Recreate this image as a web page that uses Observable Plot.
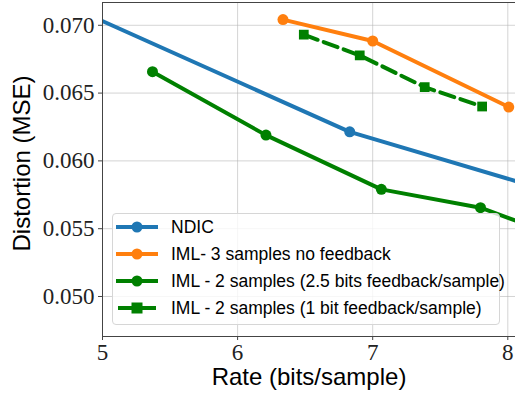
<!DOCTYPE html>
<html>
<head>
<meta charset="utf-8">
<script src="https://cdn.jsdelivr.net/npm/d3@7"></script>
<script src="https://cdn.jsdelivr.net/npm/@observablehq/plot@0.6"></script>
<style>
  html, body { margin: 0; padding: 0; background: #fff; }
  #wrap { position: relative; width: 515px; height: 398px; overflow: hidden; }
  #legend {
    position: absolute; left: 112px; top: 213px; width: 388px; height: 112px;
    border: 1px solid #d6d6d6; border-radius: 4px; background: rgba(255,255,255,0.8);
    font-family: "Liberation Sans", sans-serif; font-size: 17.5px; color: #000;
    box-sizing: border-box;
  }
  .row { position: absolute; left: 0; height: 26px; display: flex; align-items: center; }
  .row svg { margin-left: 3px; }
  .row span { margin-left: 13px; white-space: nowrap; }
</style>
</head>
<body>
<div id="wrap"><div id="chart"></div><div id="legend"></div></div>
<script>
// Series names
const seriesNames = [
  "NDIC",
  "IML- 3 samples no feedback",
  "IML - 2 samples (2.5 bits feedback/sample)",
  "IML - 2 samples (1 bit feedback/sample)"
];
const seriesColors = ["#1f77b4", "#ff7f0e", "#008000", "#008000"];

// NDIC (curve continues beyond the visible axes; only one marker in view)
const ndicRate = [4.8, 6.83, 8.3];
const ndicDist = [0.0712, 0.06214, 0.0578];

// IML 3 samples, no feedback
const iml3Rate = [6.336, 7.0, 8.007];
const iml3Dist = [0.07042, 0.06884, 0.06397];

// IML 2 samples, 2.5 bits feedback
const iml2aRate = [5.37, 6.21, 7.064, 7.798, 8.3];
const iml2aDist = [0.06658, 0.0619, 0.0579, 0.05655, 0.0547];

// IML 2 samples, 1 bit feedback
const iml2bRate = [6.49, 6.904, 7.385, 7.81];
const iml2bDist = [0.06931, 0.06778, 0.06544, 0.06401];

const xTicks = [5, 6, 7, 8];
const yTicks = [0.050, 0.055, 0.060, 0.065, 0.070];

const toRows = (xs, ys) => xs.map((x, i) => ({x, y: ys[i]}));
const ndic = toRows(ndicRate, ndicDist);
const iml3 = toRows(iml3Rate, iml3Dist);
const iml2a = toRows(iml2aRate, iml2aDist);
const iml2b = toRows(iml2bRate, iml2bDist);

const serif = "'Liberation Serif', serif";
const sans = "'Liberation Sans', sans-serif";

const chart = Plot.plot({
  width: 515,
  height: 398,
  marginLeft: 102,
  marginRight: 0,
  marginTop: 2,
  marginBottom: 62,
  x: {domain: [5, 8.057]},
  y: {domain: [0.04705, 0.07168]},
  style: {background: "transparent", overflow: "visible"},
  marks: [
    Plot.gridX(xTicks, {stroke: "#b0b0b0", strokeOpacity: 0.55, strokeWidth: 1}),
    Plot.gridY(yTicks, {stroke: "#b0b0b0", strokeOpacity: 0.55, strokeWidth: 1}),
    Plot.line(ndic, {x: "x", y: "y", stroke: seriesColors[0], strokeWidth: 4, clip: "frame"}),
    Plot.dot(ndic, {x: "x", y: "y", fill: seriesColors[0], r: 5.5, clip: "frame"}),
    Plot.line(iml3, {x: "x", y: "y", stroke: seriesColors[1], strokeWidth: 4, clip: "frame"}),
    Plot.dot(iml3, {x: "x", y: "y", fill: seriesColors[1], r: 5.5, clip: "frame"}),
    Plot.line(iml2a, {x: "x", y: "y", stroke: seriesColors[2], strokeWidth: 4, clip: "frame"}),
    Plot.dot(iml2a, {x: "x", y: "y", fill: seriesColors[2], r: 5.5, clip: "frame"}),
    Plot.line(iml2b, {x: "x", y: "y", stroke: seriesColors[3], strokeWidth: 4, strokeDasharray: "14.8,6.4", clip: "frame"}),
    Plot.dot(iml2b, {x: "x", y: "y", fill: seriesColors[3], symbol: "square", r: 5.5, clip: "frame"}),
    Plot.ruleX([5], {stroke: "#444", strokeWidth: 1}),
    Plot.ruleY([0.04705], {stroke: "#444", strokeWidth: 1}),
    Plot.ruleY([0.07168], {stroke: "#444", strokeWidth: 1}),
    Plot.axisX(xTicks, {tickSize: 4, tickPadding: 3, fontSize: 23, fontFamily: serif, label: null, tickFormat: d3.format("d"), stroke: "#444", fill: "#222"}),
    Plot.axisY(yTicks, {tickSize: 4, tickPadding: 4, fontSize: 23, fontFamily: serif, label: null, tickFormat: d3.format(".3f"), stroke: "#444", fill: "#222"}),
    Plot.text(["Rate (bits/sample)"], {frameAnchor: "bottom", dy: 48, fontSize: 24, fontFamily: sans, fill: "#000"}),
    Plot.text(["Distortion (MSE)"], {frameAnchor: "left", textAnchor: "middle", dx: -80, dy: -6, rotate: -90, fontSize: 24, fontFamily: sans, fill: "#000"})
  ]
});
document.getElementById("chart").appendChild(chart);

// Legend
const legend = document.getElementById("legend");
const rowTops = [0, 27, 54, 81];
seriesNames.forEach((name, i) => {
  const row = document.createElement("div");
  row.className = "row";
  row.style.top = rowTops[i] + "px";
  const dashed = i === 3;
  const marker = dashed
    ? `<rect x="15.5" y="7.5" width="11" height="11" fill="${seriesColors[i]}"/>`
    : `<circle cx="21" cy="13" r="5.5" fill="${seriesColors[i]}"/>`;
  row.innerHTML = `<svg width="42" height="26">
      <line x1="${dashed ? 2 : 0}" x2="${dashed ? 40 : 42}" y1="13" y2="13" stroke="${seriesColors[i]}" stroke-width="4"/>
      ${marker}</svg><span>${name}</span>`;
  legend.appendChild(row);
});
</script>
</body>
</html>
